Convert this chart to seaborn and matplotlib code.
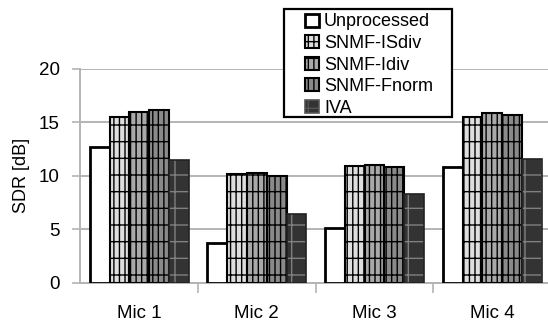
import numpy as np
import pandas as pd
import matplotlib
matplotlib.use('Agg')
import matplotlib.pyplot as plt
import seaborn as sns
from matplotlib.patches import Rectangle

# Data
mics = ['Mic 1', 'Mic 2', 'Mic 3', 'Mic 4']
methods = ['Unprocessed', 'SNMF-ISdiv', 'SNMF-Idiv', 'SNMF-Fnorm', 'IVA']
unprocessed = [12.7, 3.7, 5.1, 10.8]
snmf_isdiv = [15.5, 10.2, 10.9, 15.5]
snmf_idiv = [16.0, 10.25, 11.0, 15.9]
snmf_fnorm = [16.2, 10.0, 10.8, 15.7]
iva = [11.5, 6.4, 8.3, 11.6]

fills = ['#ffffff', '#dedede', '#a9a9a9', '#8a8a8a', '#333333']
hatches = [None, '|||-', '|||-', '|||-', '|-']

df = pd.DataFrame({
    'mic': mics * 5,
    'method': np.repeat(methods, 4),
    'sdr': unprocessed + snmf_isdiv + snmf_idiv + snmf_fnorm + iva,
})

sns.set_style('white')
plt.rcParams['font.family'] = ['Liberation Sans', 'DejaVu Sans']
plt.rcParams['hatch.linewidth'] = 1.0
plt.rcParams['text.color'] = 'black'
plt.rcParams['axes.labelcolor'] = 'black'
plt.rcParams['xtick.labelcolor'] = 'black'
plt.rcParams['ytick.labelcolor'] = 'black'

fig = plt.figure(figsize=(5.48, 3.25), dpi=100)
ax = fig.add_axes([0.1466, 0.130, 0.859, 0.658])

sns.barplot(data=df, x='mic', y='sdr', hue='method', hue_order=methods,
            palette=fills, width=0.84, edgecolor='black', linewidth=1.5,
            legend=False, ax=ax, zorder=3)

# hatching per series
for i, cont in enumerate(ax.containers):
    for bar in cont:
        if hatches[i]:
            bar.set_hatch(hatches[i])
        if i == 0:
            bar.set_linewidth(2.0)
        if i == 4:
            bar.set_edgecolor('#808080')
            bar.set_linewidth(0.0)
            ax.add_patch(Rectangle(bar.get_xy(), bar.get_width(), bar.get_height(),
                                   fill=False, edgecolor='#222222', linewidth=1.2,
                                   zorder=4))

ax.set_ylim(0, 20)
ax.set_xlim(-0.5, 3.5)
ax.set_yticks([0, 5, 10, 15, 20])
ax.yaxis.grid(True, color='#b4b4b4', linewidth=1.4)
ax.set_axisbelow(True)
ax.set_xlabel('')
ax.set_ylabel('SDR [dB]', fontsize=13, labelpad=6)

for s in ['top', 'right']:
    ax.spines[s].set_visible(False)
for s in ['left', 'bottom']:
    ax.spines[s].set_color('#b4b4b4')
    ax.spines[s].set_linewidth(1.4)

ax.tick_params(axis='y', length=6, width=1.2, color='#b4b4b4', labelsize=13.5,
               pad=9, left=True, labelcolor='black')
ax.tick_params(axis='x', which='major', length=0, labelsize=13.5, pad=16,
               labelcolor='black')
ax.set_xticks([0.5, 1.5, 2.5], minor=True)
ax.tick_params(axis='x', which='minor', length=7, width=1.2, color='#b4b4b4',
               bottom=True)

# legend: box drawn separately so the side padding can be wider
fig.add_artist(Rectangle((284 / 548, 1 - 117 / 325), 168 / 548, 108 / 325,
                         transform=fig.transFigure, facecolor='white',
                         edgecolor='black', linewidth=1.6, zorder=4))

handles = [cont[0] for cont in ax.containers[:4]]
iva_h = Rectangle((0, 0), 1, 1, facecolor=fills[4], edgecolor='#555555',
                  hatch=hatches[4], linewidth=1.2)
handles.append(iva_h)
leg = fig.legend(handles, methods, loc='upper left',
                 bbox_to_anchor=(305 / 548, 1 - 13.5 / 325),
                 bbox_transform=fig.transFigure,
                 fontsize=13, frameon=False,
                 handlelength=0.8, handleheight=0.7, handletextpad=0.25,
                 labelspacing=0.25, borderpad=0, borderaxespad=0)
for t in leg.get_texts():
    t.set_color('black')
leg.set_zorder(5)

fig.savefig('out.png', dpi=100)
